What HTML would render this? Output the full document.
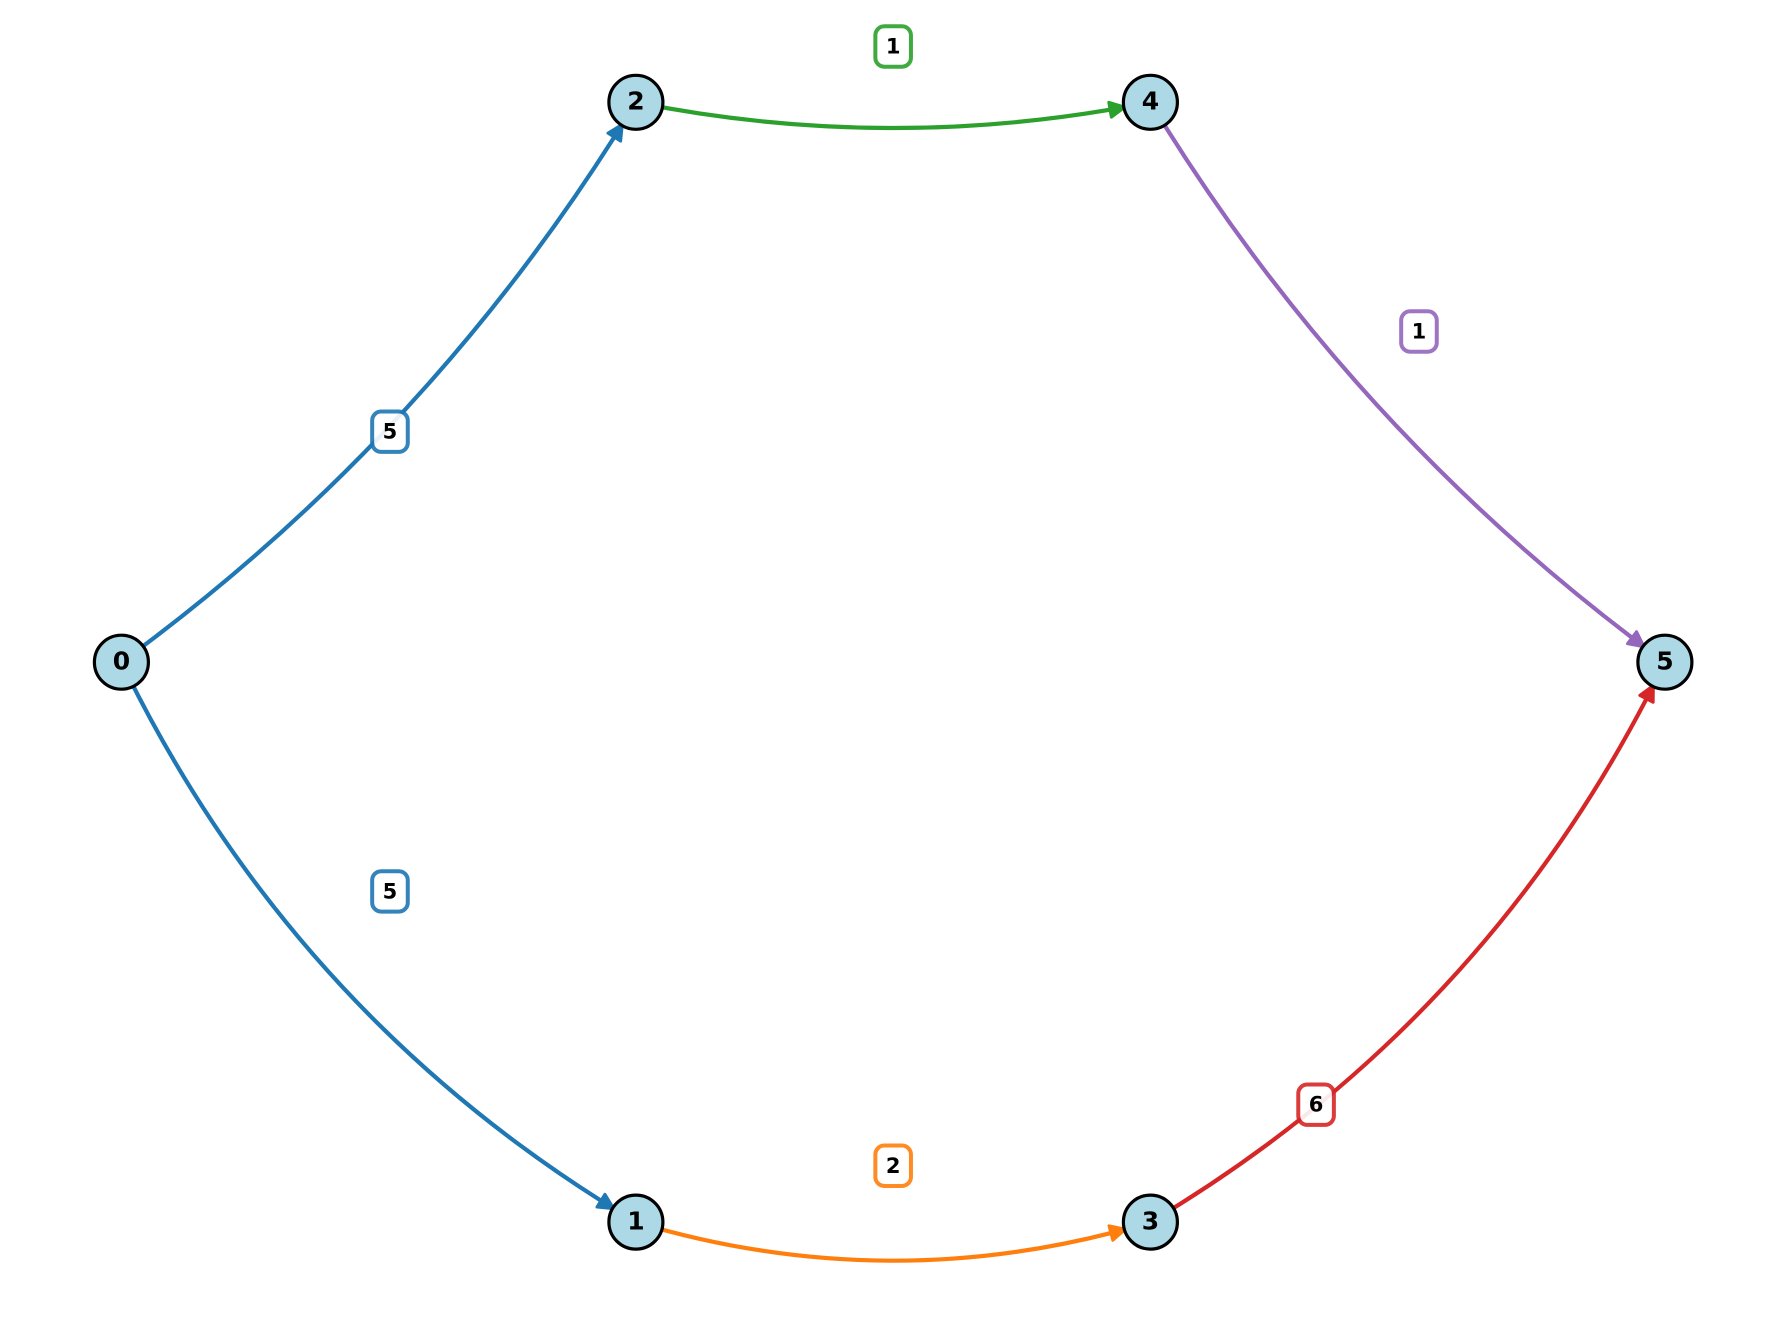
<!DOCTYPE html>
<html lang="en">
<head>
<meta charset="utf-8">
<title>Directed graph with weighted edges</title>
<style>
  html, body { margin: 0; padding: 0; background: #ffffff; }
  svg { display: block; }
  text { font-family: "DejaVu Sans", "Liberation Sans", sans-serif; font-weight: 700; fill: #000000; text-anchor: middle; }
</style>
</head>
<body>
<svg id="chart" xmlns="http://www.w3.org/2000/svg" width="1785" height="1335" viewBox="0 0 1785 1335">
  <rect x="0" y="0" width="1785" height="1335" fill="#ffffff"></rect>
  <g id="edges"></g>
  <g id="nodes"></g>
  <g id="labels"></g>
</svg>
<script>
// Graph data, in layout (data) units
const nodeIds = [0, 1, 2, 3, 4, 5];
const nodeLayer = [0, 1, 1, 2, 2, 3];
const nodeRank = [0, -1, 1, -1, 1, 0];

const edgeSource = [0, 0, 1, 2, 3, 4];
const edgeTarget = [1, 2, 3, 4, 5, 5];
const edgeWeight = [5, 5, 2, 1, 6, 1];
const edgeCurvature = [0.15, 0.1, 0.15, 0.1, 0.15, 0.1];
const edgeColor = ['#1f77b4', '#1f77b4', '#ff7f0e', '#2ca02c', '#d62728', '#9467bd'];
const labelLayer = [0.522, 0.522, 1.5, 1.5, 2.322, 2.522];
const labelRank = [-0.409, 0.412, -0.899, 1.1, -0.79, 0.591];

// Axis functions
const xScale = function (layer) { return 121.4 + 514.5 * layer; };
const yScale = function (rank) { return 662.2 - 559.9 * rank; };

const SVG_NS = 'http://www.w3.org/2000/svg';
const NODE_RADIUS = 27;
const TIP_RADIUS = 26;
const HEAD_LENGTH = 15;
const HEAD_HALF_WIDTH = 7.5;

function bezierPoint(p0, c, p1, t) {
  const u = 1 - t;
  return {
    x: u * u * p0.x + 2 * u * t * c.x + t * t * p1.x,
    y: u * u * p0.y + 2 * u * t * c.y + t * t * p1.y
  };
}

// Last parameter on the curve that lies at the given distance from the end point
function paramAtDistance(p0, c, p1, dist) {
  let lo = 0;
  let hi = 1;
  for (let i = 0; i < 40; i++) {
    const mid = (lo + hi) / 2;
    const q = bezierPoint(p0, c, p1, mid);
    if (Math.hypot(q.x - p1.x, q.y - p1.y) > dist) { lo = mid; } else { hi = mid; }
  }
  return lo;
}

const edgesLayer = document.getElementById('edges');
const nodesLayer = document.getElementById('nodes');
const labelsLayer = document.getElementById('labels');

edgeSource.forEach(function (src, i) {
  const a = { x: xScale(nodeLayer[src]), y: yScale(nodeRank[src]) };
  const tgt = edgeTarget[i];
  const b = { x: xScale(nodeLayer[tgt]), y: yScale(nodeRank[tgt]) };
  const rad = edgeCurvature[i];
  const dx = b.x - a.x;
  const dy = b.y - a.y;
  // Quadratic arc: the control point is offset perpendicular to the chord
  const c = { x: (a.x + b.x) / 2 - rad * dy, y: (a.y + b.y) / 2 + rad * dx };

  const tTip = paramAtDistance(a, c, b, TIP_RADIUS);
  const tip = bezierPoint(a, c, b, tTip);
  const tBase = paramAtDistance(a, c, b, TIP_RADIUS + HEAD_LENGTH);
  const base = bezierPoint(a, c, b, tBase);

  // Sub-curve from the source centre to the base of the arrow head
  const subC = { x: a.x + (c.x - a.x) * tBase, y: a.y + (c.y - a.y) * tBase };

  const line = document.createElementNS(SVG_NS, 'path');
  
  
  line.setAttribute('d', 'M' + a.x + ' ' + a.y + ' Q' + subC.x + ' ' + subC.y + ' ' + base.x + ' ' + base.y);
  line.setAttribute('fill', 'none');
  line.setAttribute('stroke', edgeColor[i]);
  line.setAttribute('stroke-width', '4.2');
  edgesLayer.appendChild(line);

  const len = Math.hypot(tip.x - base.x, tip.y - base.y);
  const ux = (tip.x - base.x) / len;
  const uy = (tip.y - base.y) / len;
  const head = document.createElementNS(SVG_NS, 'polygon');
  
  
  head.setAttribute('points',
    tip.x + ',' + tip.y + ' ' +
    (base.x - uy * HEAD_HALF_WIDTH) + ',' + (base.y + ux * HEAD_HALF_WIDTH) + ' ' +
    (base.x + uy * HEAD_HALF_WIDTH) + ',' + (base.y - ux * HEAD_HALF_WIDTH));
  head.setAttribute('fill', edgeColor[i]);
  head.setAttribute('stroke', edgeColor[i]);
  head.setAttribute('stroke-width', '3');
  head.setAttribute('stroke-linejoin', 'round');
  edgesLayer.appendChild(head);
});

nodeIds.forEach(function (id, i) {
  const cx = xScale(nodeLayer[i]);
  const cy = yScale(nodeRank[i]);

  const circle = document.createElementNS(SVG_NS, 'circle');
  
  
  circle.setAttribute('cx', cx);
  circle.setAttribute('cy', cy);
  circle.setAttribute('r', NODE_RADIUS);
  circle.setAttribute('fill', '#add8e6');
  circle.setAttribute('stroke', '#000000');
  circle.setAttribute('stroke-width', '3.2');
  nodesLayer.appendChild(circle);

  const text = document.createElementNS(SVG_NS, 'text');
  
  
  text.setAttribute('x', cx);
  text.setAttribute('y', cy + 7.3);
  text.setAttribute('font-size', '25');
  text.textContent = String(id);
  nodesLayer.appendChild(text);
});

edgeWeight.forEach(function (weight, i) {
  const cx = xScale(labelLayer[i]);
  const cy = yScale(labelRank[i]);
  const pairName = edgeSource[i] + '-' + edgeTarget[i];

  const box = document.createElementNS(SVG_NS, 'rect');
  
  
  box.setAttribute('x', cx - 17.8);
  box.setAttribute('y', cy - 20);
  box.setAttribute('width', 35.6);
  box.setAttribute('height', 40.4);
  box.setAttribute('rx', 9);
  box.setAttribute('ry', 9);
  box.setAttribute('fill', '#ffffff');
  box.setAttribute('stroke', edgeColor[i]);
  box.setAttribute('stroke-width', '4');
  box.setAttribute('opacity', '0.9');
  labelsLayer.appendChild(box);

  const text = document.createElementNS(SVG_NS, 'text');
  
  
  text.setAttribute('x', cx);
  text.setAttribute('y', cy + 7.2);
  text.setAttribute('font-size', '21');
  text.textContent = String(weight);
  labelsLayer.appendChild(text);
});
</script>
</body>
</html>
